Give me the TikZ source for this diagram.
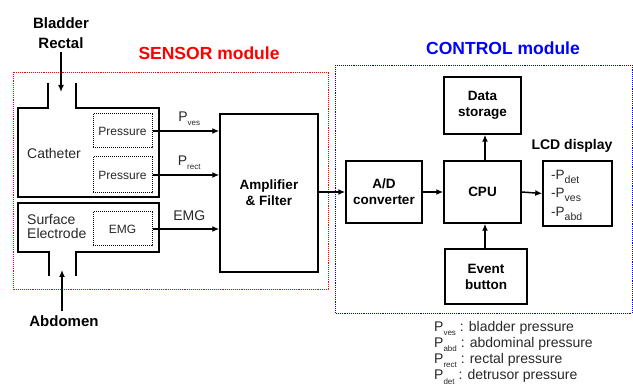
\documentclass[tikz,border=0pt]{standalone}
\usepackage{fontspec}
\setmainfont{Liberation Sans}
\usetikzlibrary{arrows.meta}
\newcommand\Psb[2][8]{P\raisebox{-0.55ex}{\fontsize{#1}{#1}\selectfont #2}}
\definecolor{txt}{RGB}{40,40,40}
\begin{document}
\begin{tikzpicture}[x=1pt,y=-1pt,
 box/.style={draw, line width=1.5pt, inner sep=0pt, align=center, font=\bfseries\fontsize{13.5}{16}\selectfont},
 dbox/.style={draw, densely dotted, line width=1pt, inner sep=0pt, text=txt, font=\fontsize{12}{14}\selectfont},
 arr/.style={-{Latex[length=7pt,width=6pt]}, line width=1.5pt},
 lbl/.style={inner sep=0pt, text=txt, font=\fontsize{14}{16}\selectfont},
 ttl/.style={inner sep=0pt, font=\bfseries\fontsize{17.5}{20}\selectfont},
 outline/.style={line width=1.5pt},
 module/.style={densely dotted, line width=0.9pt}
]
\useasboundingbox (0,0) rectangle (633,390);
% module frames
\draw[module, red] (13,72) rectangle (328,289);
\draw[module, blue] (335,65) rectangle (632,313);
\node[ttl, text=red] (sensor) at (209,53) {SENSOR module};
\node[ttl, text=blue] (control) at (503,48) {CONTROL module};
% inputs
\node[inner sep=0pt, align=center, font=\bfseries\fontsize{15}{20}\selectfont] (bladder) at (61,33) {Bladder\\Rectal};
\coordinate (cathin) at (61,92);
\draw[arr] (bladder.south) ++(0,3) -- (cathin);
\node[inner sep=0pt, font=\bfseries\fontsize{15}{18}\selectfont] (abdomen) at (64,321) {Abdomen};
\coordinate (surfin) at (62,270);
\draw[arr] (abdomen.north -| surfin) ++(0,-4) -- (surfin);
% catheter outline
\draw[outline] (48,83) -- (48,108) -- (18,108) -- (18,197) -- (159,197) -- (159,108) -- (76,108) -- (76,83);
\node[lbl] (cath) at (54,153) {Catheter};
% surface electrode outline
\draw[outline] (49,276) -- (49,252) -- (18,252) -- (18,203) -- (159,203) -- (159,252) -- (76,252) -- (76,276);
\node[lbl, anchor=west, align=left, font=\fontsize{14}{13.5}\selectfont] (surf) at (27,226.5) {Surface\\Electrode};
% sensor boxes
\node[dbox, minimum width=59pt, minimum height=34pt] (p1) at (122.5,131) {Pressure};
\node[dbox, minimum width=59pt, minimum height=36pt] (p2) at (122.5,175) {Pressure};
\node[dbox, minimum width=59pt, minimum height=34pt] (emg) at (122.5,229) {EMG};
% amplifier
\node[box, minimum width=98pt, minimum height=158pt] (amp) at (269,193) {Amplifier\\\& Filter};
\draw[arr] (p1.east) -- (p1.east -| amp.west) node[pos=0.55, lbl, above=5pt] (lves) {\Psb{ves}};
\draw[arr] (p2.east) -- (p2.east -| amp.west) node[pos=0.55, lbl, above=5pt] (lrect) {\Psb{rect}};
\draw[arr] (emg.east) -- (emg.east -| amp.west) node[pos=0.55, lbl, above=8pt] (lemg) {EMG};
% control
\node[box, minimum width=76pt, minimum height=62pt] (ad) at (384,192) {A/D\\converter};
\node[box, minimum width=77pt, minimum height=62pt] (cpu) at (482.5,192) {CPU};
\node[box, minimum width=77pt, minimum height=57pt] (data) at (482.5,105.5) {Data\\storage};
\node[box, minimum width=69pt, minimum height=65pt] (lcd) at (577.5,193.5) {};
\node[inner sep=0pt, font=\bfseries\fontsize{14}{16}\selectfont] (lcdt) at (572,146) {LCD display};
\node[inner sep=0pt, anchor=north west, align=left, text=txt, font=\fontsize{13.5}{18.5}\selectfont] (lcdtxt) at (551,170) {-\Psb[10.5]{det}\\-\Psb[10.5]{ves}\\-\Psb[10.5]{abd}};
\node[box, minimum width=82pt, minimum height=55pt] (event) at (486,276.5) {Event\\button};
\draw[arr] (amp.east |- ad.west) -- (ad.west);
\draw[arr] (ad.east) -- (cpu.west);
\draw[arr] (cpu.east) -- (lcd.west);
\draw[arr] (cpu.north -| 485,0) -- (data.south -| 485,0);
\draw[arr] (event.north -| 485,0) -- (cpu.south -| 485,0);
% legend
\node[inner sep=0pt, anchor=north west, align=left, text=txt, font=\fontsize{14}{16.2}\selectfont] (legend) at (434,321) {\Psb{ves} : bladder pressure\\\Psb{abd} : abdominal pressure\\\Psb{rect} : rectal pressure\\\Psb{det} : detrusor pressure};
\end{tikzpicture}
\end{document}
